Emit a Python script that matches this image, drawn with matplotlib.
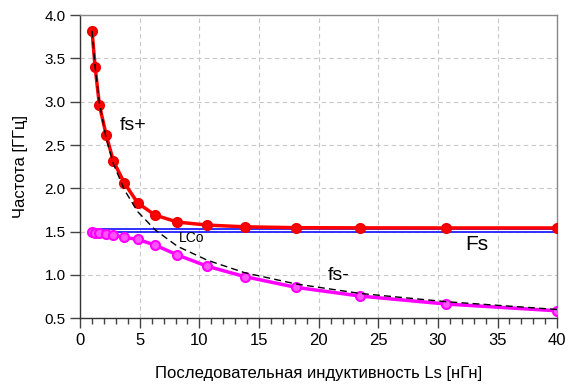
import matplotlib
matplotlib.use("Agg")
import matplotlib.pyplot as plt
from matplotlib.ticker import MultipleLocator

plt.rcParams["font.family"] = ["Liberation Sans", "DejaVu Sans"]

# Ls values [nH] at which points were computed
ls = [1.0, 1.26, 1.62, 2.18, 2.8, 3.72, 4.83, 6.29, 8.16, 10.65, 13.8, 18.1, 23.5, 30.7, 40.0]
# upper series resonance fs+ [GHz]
fs_plus = [3.82, 3.40, 2.96, 2.62, 2.31, 2.06, 1.83, 1.69, 1.61, 1.575, 1.555, 1.545, 1.543, 1.542, 1.542]
# lower series resonance fs- [GHz]
fs_minus = [1.49, 1.488, 1.48, 1.47, 1.456, 1.433, 1.41, 1.344, 1.23, 1.10, 0.98, 0.856, 0.755, 0.663, 0.585]
# LCo resonance (dashed) [GHz]
lco = [3.82, 3.40, 2.99, 2.58, 2.28, 1.98, 1.73, 1.52, 1.33, 1.17, 1.025, 0.895, 0.785, 0.69, 0.60]
# Fs (two close blue lines)
fs_x = [1.0, 40.0]
fs_hi = [1.53, 1.53]
fs_lo = [1.49, 1.49]

fig = plt.figure(figsize=(5.68, 3.88), dpi=100)
ax = fig.add_axes([0.141, 0.180, 0.840, 0.781])

ax.plot(fs_x, fs_hi, color="#2020ff", lw=1.3, zorder=2)
ax.plot(fs_x, fs_lo, color="#2020ff", lw=1.3, zorder=2)

ax.plot(ls, fs_minus, color="#ff00ff", lw=2.5, marker="o", ms=6.5,
        mfc="#ff55ff", mec="#ff00ff", mew=1.5, zorder=3)
ax.plot(ls, fs_plus, color="#ff0000", lw=2.5, marker="o", ms=6.5,
        mfc="#ff0000", mec="#ee0000", mew=1.5, zorder=4)
ax.plot(ls, lco, color="black", lw=1.0, ls=(0, (5, 3)), zorder=5)

ax.text(3.3, 2.72, "fs+", fontsize=14, ha="left", va="center")
ax.text(8.3, 1.43, "LCo", fontsize=10, ha="left", va="center")
ax.text(32.3, 1.35, "Fs", fontsize=15, ha="left", va="center")
ax.text(20.8, 0.99, "fs-", fontsize=14, ha="left", va="center")

ax.set_xlim(0, 40)
ax.set_ylim(0.5, 4.0)
ax.xaxis.set_major_locator(MultipleLocator(5))
ax.xaxis.set_minor_locator(MultipleLocator(1))
ax.yaxis.set_major_locator(MultipleLocator(0.5))
ax.yaxis.set_major_formatter(plt.FormatStrFormatter("%.1f"))

ax.grid(True, which="major", color="#c8c8c8", ls=(0, (4, 3)), lw=0.8)
ax.tick_params(axis="x", which="major", direction="out", length=7, width=1, colors="#444444", labelcolor="black", labelsize=12, pad=4)
ax.tick_params(axis="x", which="minor", direction="out", length=4, width=1, colors="#444444")
ax.tick_params(axis="y", which="major", direction="out", length=7, width=1, colors="#444444", labelcolor="black", labelsize=11)

for side in ["left", "bottom"]:
    ax.spines[side].set_color("#333333")
    ax.spines[side].set_linewidth(1.0)
for side in ["top", "right"]:
    ax.spines[side].set_color("#888888")
    ax.spines[side].set_linewidth(1.0)

ax.set_xlabel("Последовательная индуктивность Ls [нГн]", fontsize=12, labelpad=13)
ax.set_ylabel("Частота [ГГц]", fontsize=12, labelpad=12)

fig.savefig("out.png", dpi=100)
